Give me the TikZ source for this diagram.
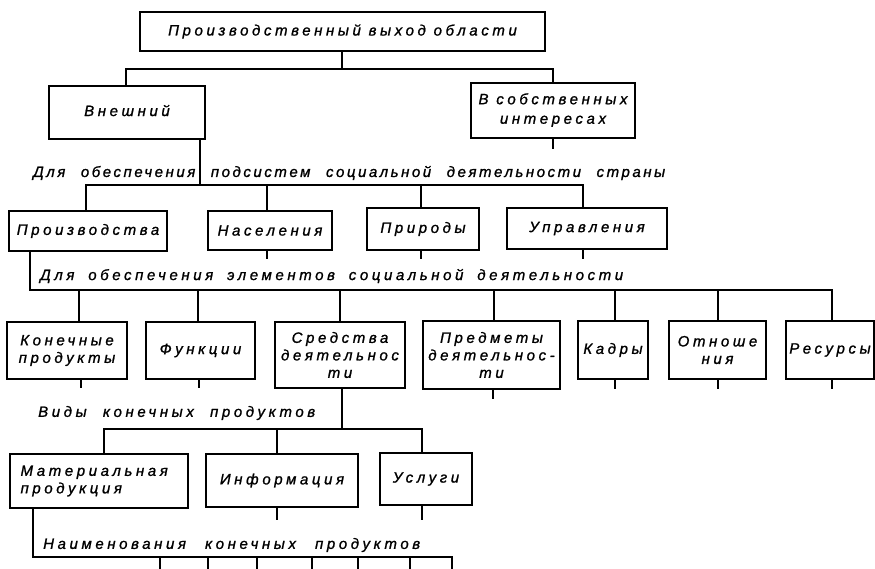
\documentclass[tikz,border=0pt]{standalone}
\usepackage{fontspec}
\newfontfamily\hand{Liberation Sans Italic}[LetterSpace=24, FakeBold=1.2]
\newfontfamily\handcap{Liberation Sans Italic}[LetterSpace=17, FakeBold=1.2]
\usetikzlibrary{shadows}

\tikzset{
  box/.style={draw, line width=1.9pt, fill=white, inner sep=0pt, align=center,
    font=\hand\fontsize{15}{17.5}\selectfont,
    drop shadow={shadow xshift=1.2pt, shadow yshift=-1.2pt, fill=black, opacity=1}},
  conn/.style={line width=1.6pt},
  caption/.style={anchor=west, inner sep=0pt, font=\hand\fontsize{15}{17}\selectfont},
  tightcaption/.style={caption, font=\handcap\fontsize{15}{17}\selectfont},
}
% spread a caption over a fixed width
\newcommand{\spread}[2]{\makebox[#1pt][s]{#2}}

\begin{document}
\begin{tikzpicture}[x=1pt, y=-1pt]
  \fill[white] (0,0) rectangle (875,569);
  \useasboundingbox (0,0) rectangle (875,569);

  % level 0 and 1
  \node[box, minimum width=405pt, minimum height=39pt] (top) at (342.5,31.5)
    {Производственный выход области};
  \node[box, minimum width=156pt, minimum height=53pt] (ext) at (127,112.5)
    {\raisebox{4pt}{Внешний}};
  \node[box, minimum width=164pt, minimum height=55pt] (own) at (553,110.5)
    {\raisebox{3pt}{\begin{tabular}{@{}c@{}}В собственных\\[2pt]интересах\end{tabular}}};

  \coordinate (j0L) at (126,69);
  \coordinate (j0R) at (553,69);
  \coordinate (j0s) at (342,69);
  \draw[conn] (top.south -| j0s) -- (j0s);
  \draw[conn] (ext.north -| j0L) -- (j0L) -- (j0R) -- (own.north -| j0R);
  \draw[conn] (own.south) -- ++(0,10);

  % subsystems
  \node[tightcaption] (t1) at (33,173)
    {\spread{632}{Для обеспечения подсистем социальной деятельности страны}};

  \node[box, minimum width=158pt, minimum height=40pt] (proizv) at (88,231) {Производства};
  \node[box, minimum width=124pt, minimum height=39pt] (nasel) at (270,230.5) {Населения};
  \node[box, minimum width=112pt, minimum height=42pt] (prir) at (423,229) {Природы};
  \node[box, minimum width=160pt, minimum height=41pt] (upr) at (587,228.5) {Управления};

  \coordinate (j1s) at (200,185);
  \coordinate (j1L) at (86,185);
  \coordinate (j1a) at (267,185);
  \coordinate (j1b) at (421,185);
  \coordinate (j1R) at (583,185);
  \draw[conn] (ext.south -| j1s) -- (j1s);
  \draw[conn] (proizv.north -| j1L) -- (j1L) -- (j1R) -- (upr.north -| j1R);
  \draw[conn] (j1a) -- (nasel.north -| j1a);
  \draw[conn] (j1b) -- (prir.north -| j1b);
  \draw[conn] (nasel.south -| j1a) -- ++(0,8);
  \draw[conn] (prir.south -| j1b) -- ++(0,8);
  \draw[conn] (upr.south -| j1R) -- ++(0,9);

  % elements
  \node[caption] (t2) at (40,276)
    {\spread{583}{Для обеспечения элементов социальной деятельности}};

  \node[box, minimum width=120pt, minimum height=57pt] (kon) at (67,350.5) {Конечные\\продукты};
  \node[box, minimum width=109pt, minimum height=57pt] (fun) at (200.5,350.5) {Функции};
  \node[box, minimum width=130pt, minimum height=66pt] (sred) at (340,355) {Средства\\деятельнос\\ти};
  \node[box, minimum width=137pt, minimum height=68pt] (pred) at (491.5,355) {Предметы\\деятельнос-\\ти};
  \node[box, minimum width=70pt, minimum height=58pt] (kad) at (613,350) {Кадры};
  \node[box, minimum width=97pt, minimum height=58pt] (otn) at (717.5,350) {Отноше\\ния};
  \node[box, minimum width=88pt, minimum height=58pt] (res) at (830,350) {Ресурсы};

  \coordinate (j2L) at (30,290);
  \coordinate (j2a) at (79,290);
  \coordinate (j2b) at (198,290);
  \coordinate (j2c) at (340,290);
  \coordinate (j2d) at (494,290);
  \coordinate (j2e) at (615,290);
  \coordinate (j2f) at (718,290);
  \coordinate (j2R) at (832,290);
  \draw[conn] (proizv.south -| j2L) -- (j2L) -- (j2R) -- (res.north -| j2R);
  \foreach \j/\n in {j2a/kon, j2b/fun, j2c/sred, j2d/pred, j2e/kad, j2f/otn}
    \draw[conn] (\j) -- (\n.north -| \j);
  \draw[conn] (kon.south) ++(14,0) -- ++(0,8);
  \draw[conn] (fun.south) ++(-1.5,0) -- ++(0,8);
  \draw[conn] (pred.south) ++(1.5,0) -- ++(0,9);
  \draw[conn] (kad.south -| j2e) -- ++(0,9);
  \draw[conn] (otn.south -| j2f) -- ++(0,9);
  \draw[conn] (res.south -| j2R) -- ++(0,9);

  % kinds of end products
  \node[caption] (t3) at (38,413) {\spread{277}{Виды конечных продуктов}};

  \node[box, minimum width=178pt, minimum height=54pt, align=left] (mat) at (99,481)
    {\hspace*{3pt}Материальная\\\hspace*{3pt}продукция\hspace*{3.9em}};
  \node[box, minimum width=152pt, minimum height=53pt] (inf) at (282,480.5) {Информация};
  \node[box, minimum width=92pt, minimum height=52pt] (usl) at (426,479) {Услуги};

  \coordinate (j3s) at (342,429);
  \coordinate (j3L) at (104,429);
  \coordinate (j3a) at (277,429);
  \coordinate (j3R) at (422,429);
  \draw[conn] (sred.south -| j3s) -- (j3s);
  \draw[conn] (mat.north -| j3L) -- (j3L) -- (j3R) -- (usl.north -| j3R);
  \draw[conn] (j3a) -- (inf.north -| j3a);
  \draw[conn] (inf.south -| j3a) -- ++(0,12);
  \draw[conn] (usl.south -| j3R) -- ++(0,14);

  % names of end products
  \node[caption] (t4) at (43,545) {\spread{377}{Наименования конечных продуктов}};

  \coordinate (j4L) at (33,557);
  \coordinate (j4R) at (452,557);
  \draw[conn] (mat.south -| j4L) -- (j4L) -- (j4R) -- ++(0,14);
  \foreach \x in {160,208,257,312,358,410}
    \draw[conn] (\x,557) -- (\x,571);
\end{tikzpicture}
\end{document}
